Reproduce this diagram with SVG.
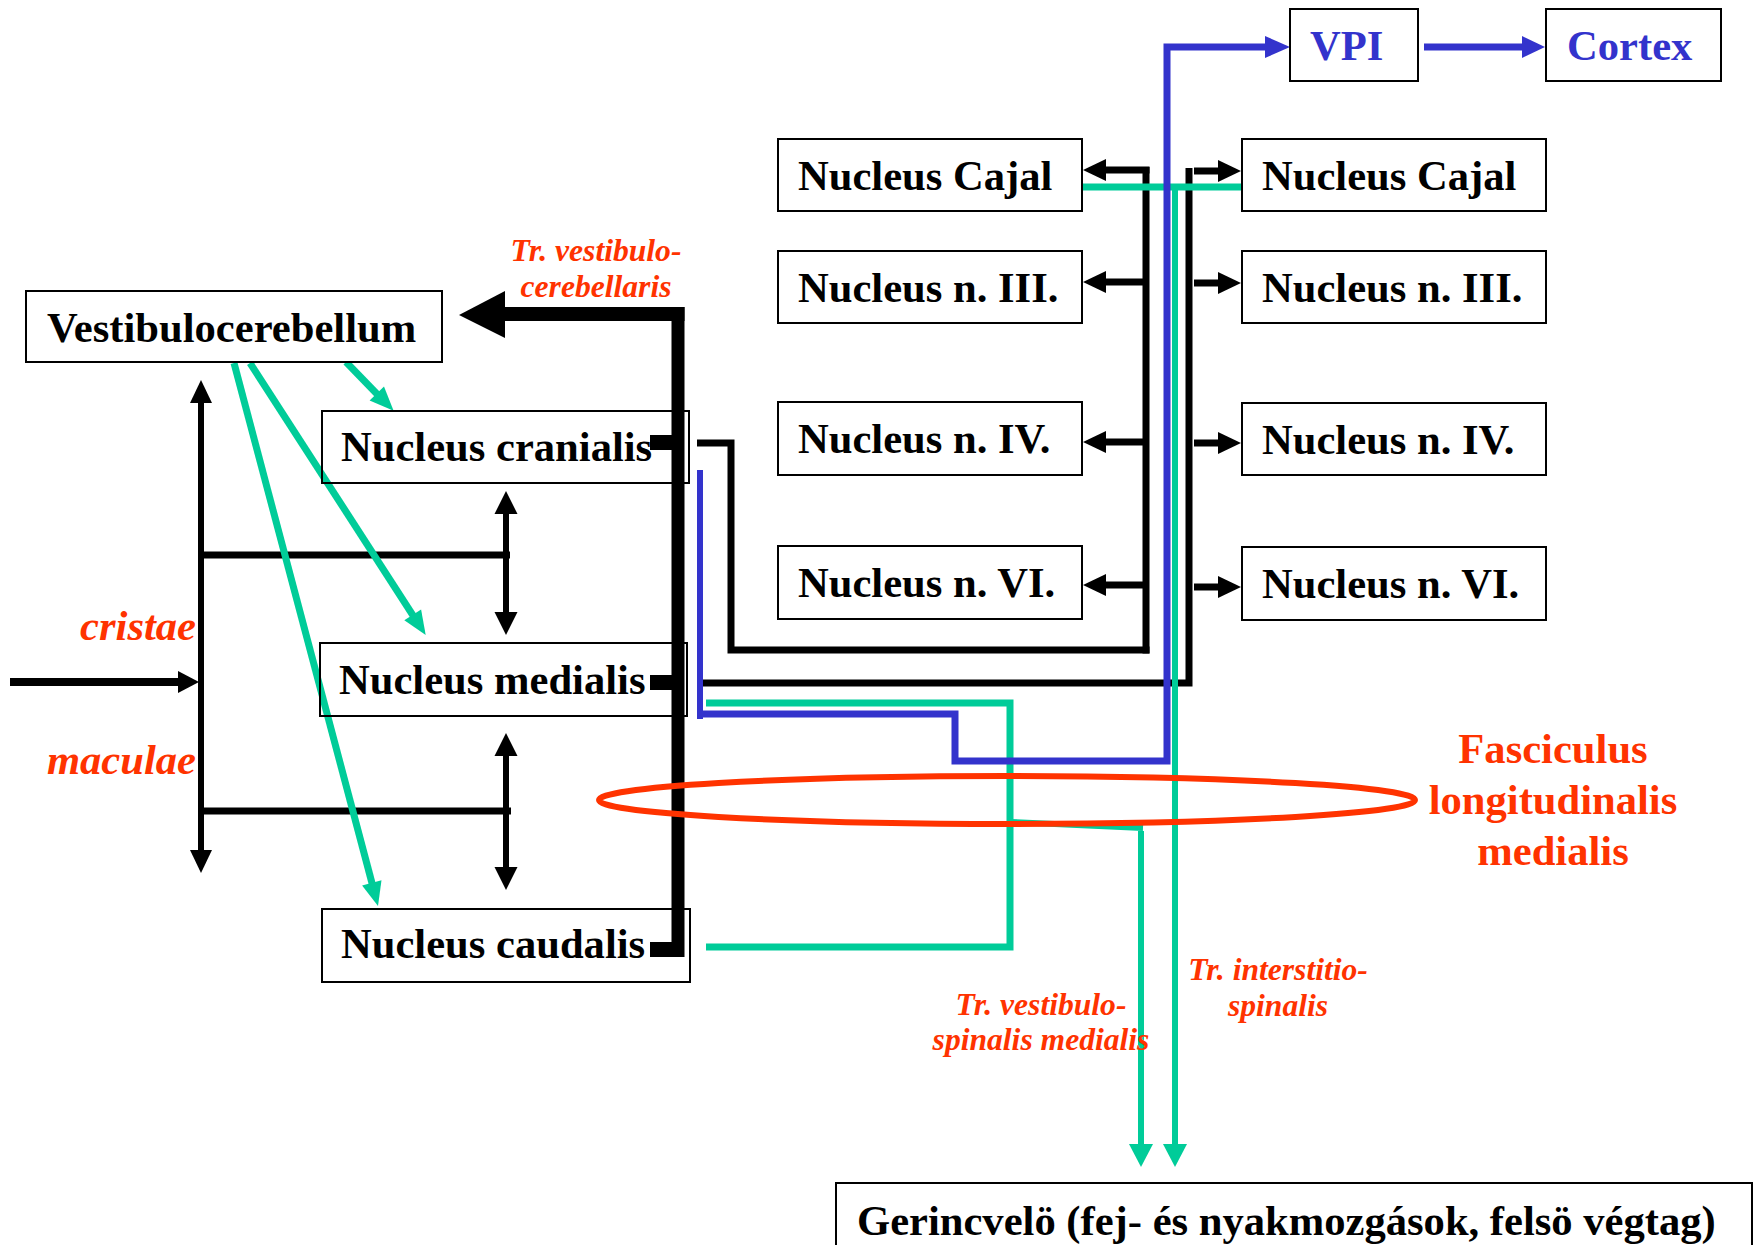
<svg xmlns="http://www.w3.org/2000/svg" width="1754" height="1245" viewBox="0 0 1754 1245">
<style>
.box{fill:#fff;stroke:#000;stroke-width:2}
.t{font-family:"Liberation Serif","Times New Roman",serif;font-weight:bold;font-size:42.6px;fill:#000}
.tb{fill:#3333CC}
.r{font-family:"Liberation Serif","Times New Roman",serif;font-weight:bold;fill:#FF3300}
.ri{font-style:italic}
.k{stroke:#000;fill:none}
.g{stroke:#00CC99;fill:none}
.b{stroke:#3333CC;fill:none}
.kf{fill:#000}
.gf{fill:#00CC99}
.bf{fill:#3333CC}
</style>
<rect width="1754" height="1245" fill="#fff"/>
<g id="connectors">
  <line class="k" x1="10" y1="682" x2="179" y2="682" stroke-width="8"/>
  <polygon class="kf" points="178,671 199,682 178,693"/>
  <line class="k" x1="201" y1="402" x2="201" y2="851" stroke-width="6"/>
  <polygon class="kf" points="190,403 201,380 212,403"/>
  <polygon class="kf" points="190,850 201,873 212,850"/>
  <line class="k" x1="198" y1="555" x2="510" y2="555" stroke-width="7"/>
  <line class="k" x1="198" y1="811" x2="511" y2="811" stroke-width="7"/>
  <line class="k" x1="506" y1="513" x2="506" y2="613" stroke-width="6"/>
  <polygon class="kf" points="494.5,514 506,491 517.5,514"/>
  <polygon class="kf" points="494.5,612 506,635 517.5,612"/>
  <line class="k" x1="506" y1="755" x2="506" y2="868" stroke-width="6"/>
  <polygon class="kf" points="494.5,756 506,733 517.5,756"/>
  <polygon class="kf" points="494.5,867 506,890 517.5,867"/>
  <line class="k" x1="678" y1="307" x2="678" y2="957" stroke-width="13"/>
  <line class="k" x1="504" y1="314" x2="684.5" y2="314" stroke-width="14"/>
  <polygon class="kf" points="459,315 505,291 505,338"/>
  <rect class="kf" x="650" y="435" width="29" height="15"/>
  <rect class="kf" x="650" y="675" width="29" height="15"/>
  <rect class="kf" x="650" y="942" width="29" height="15"/>
  <path class="k" d="M697,443 H731 V650 H1149.5" stroke-width="7"/>
  <path class="k" d="M703,683 H1189 V168" stroke-width="7"/>
  <line class="k" x1="1146" y1="167" x2="1146" y2="653.5" stroke-width="7"/>
  <line class="k" x1="1105" y1="170" x2="1149.5" y2="170" stroke-width="7"/>
  <polygon class="kf" points="1083,170 1106,159 1106,181"/>
  <line class="k" x1="1105" y1="282" x2="1146" y2="282" stroke-width="7"/>
  <polygon class="kf" points="1083,282 1106,271 1106,293"/>
  <line class="k" x1="1105" y1="442" x2="1146" y2="442" stroke-width="7"/>
  <polygon class="kf" points="1083,442 1106,431 1106,453"/>
  <line class="k" x1="1105" y1="585" x2="1146" y2="585" stroke-width="7"/>
  <polygon class="kf" points="1083,585 1106,574 1106,596"/>
  <line class="k" x1="1194" y1="171" x2="1219" y2="171" stroke-width="7"/>
  <polygon class="kf" points="1218,160 1241,171 1218,182"/>
  <line class="k" x1="1194" y1="283" x2="1219" y2="283" stroke-width="7"/>
  <polygon class="kf" points="1218,272 1241,283 1218,294"/>
  <line class="k" x1="1194" y1="443" x2="1219" y2="443" stroke-width="7"/>
  <polygon class="kf" points="1218,432 1241,443 1218,454"/>
  <line class="k" x1="1194" y1="587" x2="1219" y2="587" stroke-width="7"/>
  <polygon class="kf" points="1218,576 1241,587 1218,598"/>
  <line class="g" x1="1082" y1="187" x2="1242" y2="187" stroke-width="7"/>
  <line class="g" x1="1175" y1="187" x2="1175" y2="1145" stroke-width="6"/>
  <polygon class="gf" points="1163,1144 1175,1167 1187,1144"/>
  <path class="g" d="M706,703 H1010 V947 H706" stroke-width="7"/>
  <path class="g" d="M1010,822 L1143,828 M1141,831 V1145" stroke-width="6"/>
  <polygon class="gf" points="1129,1144 1141,1167 1153,1144"/>
  <line class="g" x1="346" y1="362" x2="378" y2="395" stroke-width="7"/>
  <polygon class="gf" points="369.6,400.5 393.6,410.7 384,386.5"/>
  <line class="g" x1="250" y1="363" x2="414" y2="617" stroke-width="7"/>
  <polygon class="gf" points="404.3,620.2 425.7,635 421.1,609.4"/>
  <line class="g" x1="234" y1="363" x2="372.5" y2="885" stroke-width="7"/>
  <polygon class="gf" points="362.1,885.4 378,906 381.5,880.2"/>
  <line class="b" x1="700" y1="470" x2="700" y2="719" stroke-width="6"/>
  <path class="b" d="M703,714 H955 V761 H1167 V47 H1266" stroke-width="7"/>
  <polygon class="bf" points="1265,36 1290,47 1265,58"/>
  <line class="b" x1="1424" y1="47" x2="1523" y2="47" stroke-width="7"/>
  <polygon class="bf" points="1522,36 1545,47 1522,58"/>
</g>
<g id="vestibulocerebellum"><rect class="box" x="26" y="291" width="416" height="71"/><text class="t" x="47" y="342">Vestibulocerebellum</text></g>
<g id="nucleus-cranialis"><rect class="box" x="322" y="411" width="367" height="72" fill-opacity="0"/><text class="t" x="341" y="461">Nucleus cranialis</text></g>
<g id="nucleus-medialis"><rect class="box" x="320" y="643" width="367" height="73" fill-opacity="0"/><text class="t" x="339" y="694">Nucleus medialis</text></g>
<g id="nucleus-caudalis"><rect class="box" x="322" y="909" width="368" height="73" fill-opacity="0"/><text class="t" x="341" y="958">Nucleus caudalis</text></g>
<g id="cajal-left"><rect class="box" x="778" y="139" width="304" height="72"/><text class="t" x="798" y="190">Nucleus Cajal</text></g>
<g id="n3-left"><rect class="box" x="778" y="251" width="304" height="72"/><text class="t" x="798" y="302">Nucleus n. III.</text></g>
<g id="n4-left"><rect class="box" x="778" y="402" width="304" height="73"/><text class="t" x="798" y="453">Nucleus n. IV.</text></g>
<g id="n6-left"><rect class="box" x="778" y="546" width="304" height="73"/><text class="t" x="798" y="597">Nucleus n. VI.</text></g>
<g id="cajal-right"><rect class="box" x="1242" y="139" width="304" height="72"/><text class="t" x="1262" y="190">Nucleus Cajal</text></g>
<g id="n3-right"><rect class="box" x="1242" y="251" width="304" height="72"/><text class="t" x="1262" y="302">Nucleus n. III.</text></g>
<g id="n4-right"><rect class="box" x="1242" y="403" width="304" height="72"/><text class="t" x="1262" y="454">Nucleus n. IV.</text></g>
<g id="n6-right"><rect class="box" x="1242" y="547" width="304" height="73"/><text class="t" x="1262" y="598">Nucleus n. VI.</text></g>
<g id="vpi"><rect class="box" x="1290" y="9" width="128" height="72"/><text class="t tb" x="1310" y="60">VPI</text></g>
<g id="cortex"><rect class="box" x="1546" y="9" width="175" height="72"/><text class="t tb" x="1567" y="60">Cortex</text></g>
<g id="gerincvelo"><rect class="box" x="836" y="1183" width="916" height="80"/><text class="t" x="857" y="1235">Gerincvelö (fej- és nyakmozgások, felsö végtag)</text></g>
<g id="flm">
  <ellipse cx="1007" cy="800" rx="408" ry="24" fill="none" stroke="#FF3300" stroke-width="6"/>
  <text class="r" font-size="42.6" text-anchor="middle"><tspan x="1553" y="763">Fasciculus</tspan><tspan x="1553" y="814">longitudinalis</tspan><tspan x="1553" y="865">medialis</tspan></text>
</g>
<g id="labels">
  <text class="r ri" font-size="31.6" text-anchor="middle"><tspan x="596" y="261">Tr. vestibulo-</tspan><tspan x="596" y="297">cerebellaris</tspan></text>
  <text class="r ri" font-size="42.6" text-anchor="end" x="196" y="640">cristae</text>
  <text class="r ri" font-size="42.6" text-anchor="end" x="196" y="774">maculae</text>
  <text class="r ri" font-size="31.6" text-anchor="middle"><tspan x="1041" y="1015">Tr. vestibulo-</tspan><tspan x="1041" y="1050">spinalis medialis</tspan></text>
  <text class="r ri" font-size="31.6" text-anchor="middle"><tspan x="1278" y="980">Tr. interstitio-</tspan><tspan x="1278" y="1016">spinalis</tspan></text>
</g>
</svg>
